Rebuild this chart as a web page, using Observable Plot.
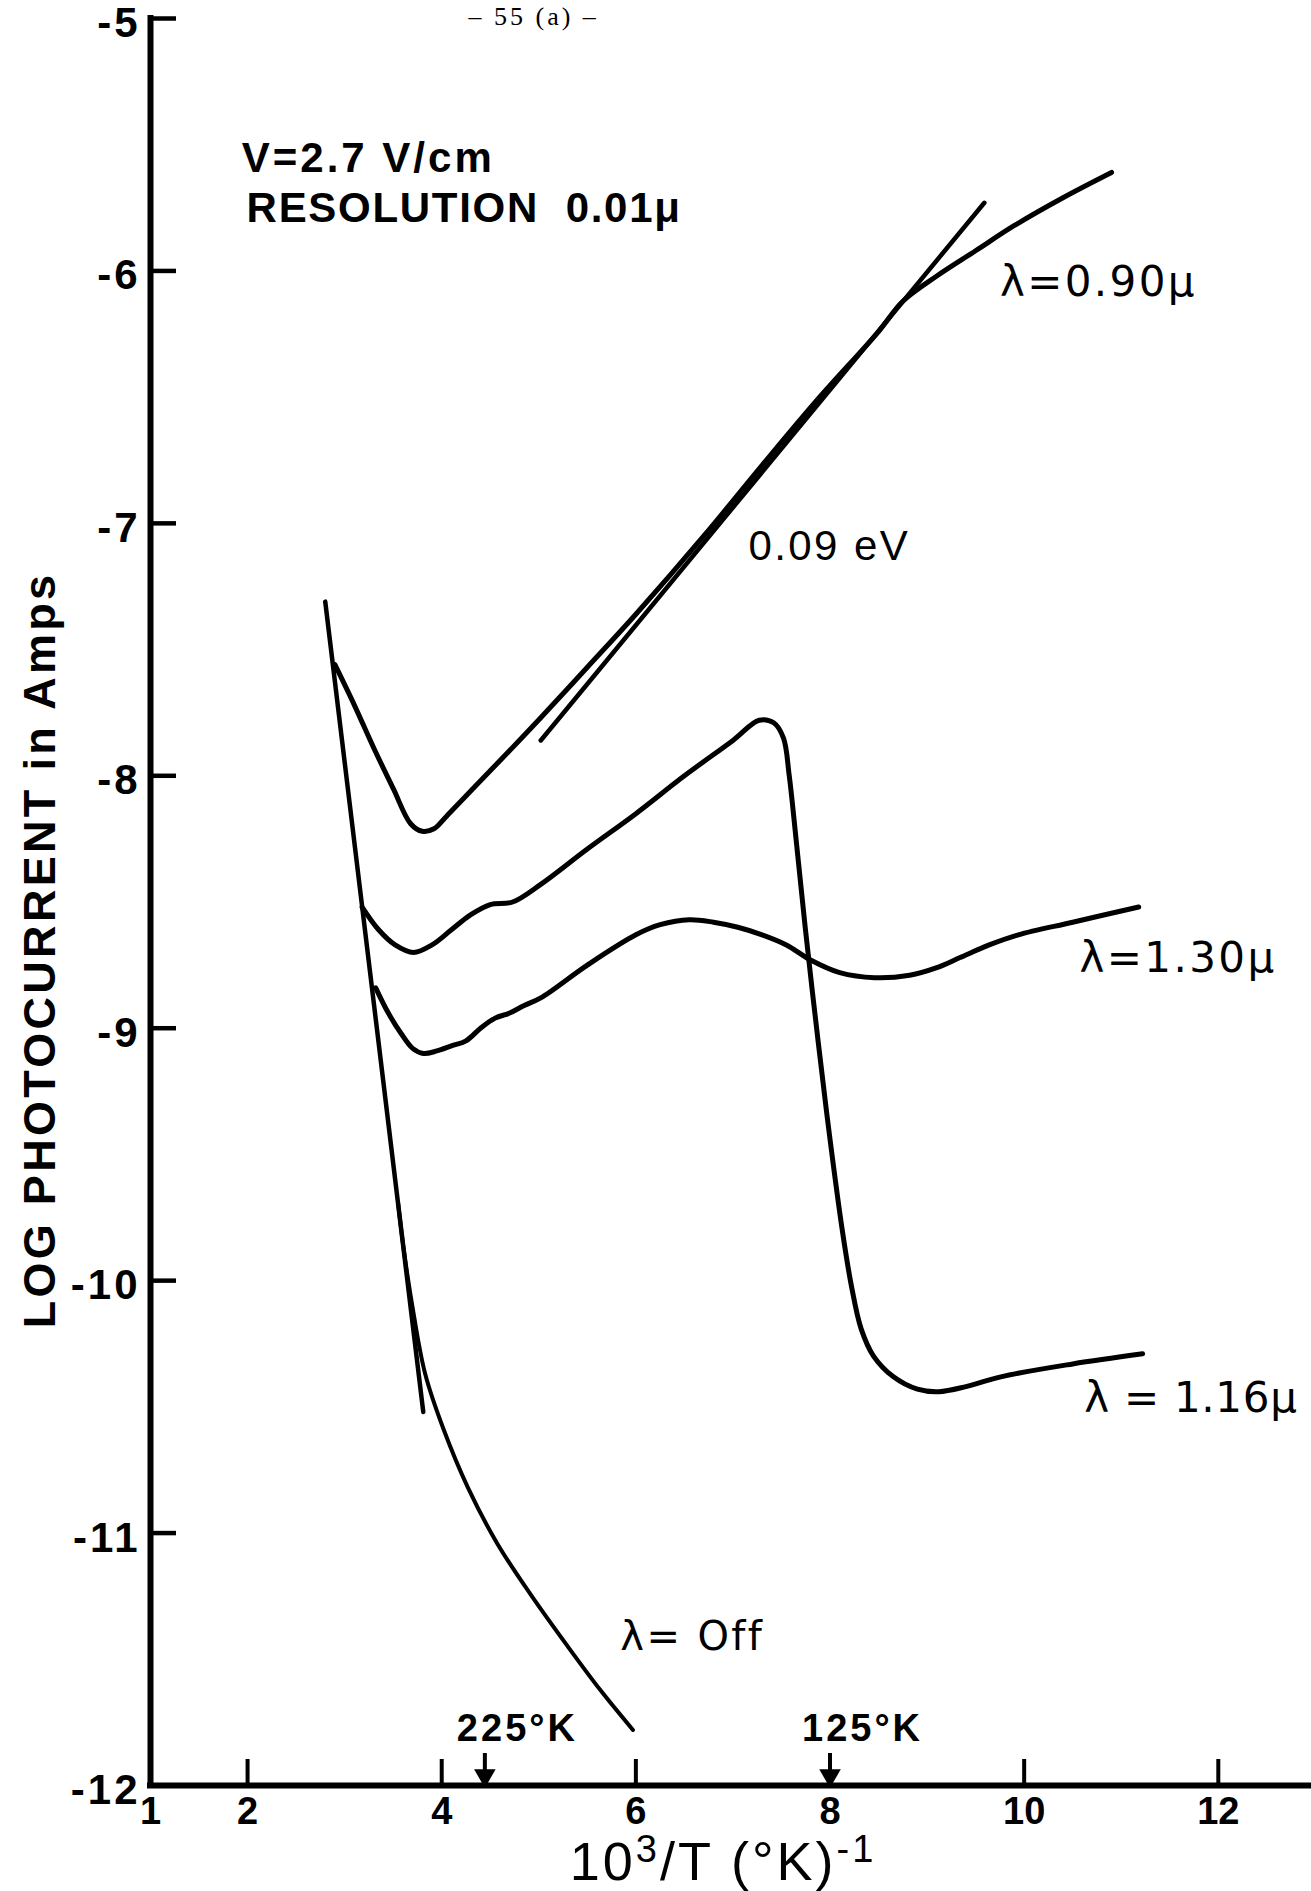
<!DOCTYPE html>
<html>
<head>
<meta charset="utf-8">
<script src="https://cdn.jsdelivr.net/npm/d3@7"></script>
<script src="https://cdn.jsdelivr.net/npm/@observablehq/plot@0.6"></script>
<style>
html, body { margin: 0; padding: 0; background: #fff; }
#chart svg { display: block; }
</style>
</head>
<body>
<div id="chart"></div>
<script>
// ---- axes ----
const xTickValues = [2, 4, 6, 8, 10, 12];
const xLabelValues = [1, 2, 4, 6, 8, 10, 12];
const yTickValues = [-5, -6, -7, -8, -9, -10, -11];
const yLabelValues = [-5, -6, -7, -8, -9, -10, -11, -12];
const tempMarks = [225, 125]; // °K, placed at 10^3/T

// ---- series: [10^3/T, log photocurrent] ----
const offSteep = [[2.80, -7.31], [3.81, -10.52]];
const offTail = [[3.55, -9.69], [3.61, -9.88], [3.71, -10.13], [3.83, -10.37], [4.02, -10.59], [4.27, -10.82],
  [4.57, -11.04], [4.91, -11.24], [5.30, -11.45], [5.63, -11.62], [5.97, -11.78]];
const lambda090 = [[2.90, -7.56], [3.10, -7.72], [3.30, -7.89], [3.50, -8.05], [3.68, -8.19], [3.80, -8.22],
  [3.92, -8.21], [4.05, -8.16], [4.40, -8.02], [4.70, -7.90], [5.02, -7.77], [5.50, -7.57], [6.00, -7.36],
  [6.70, -7.05], [7.30, -6.77], [7.87, -6.51], [8.50, -6.24], [8.75, -6.12], [9.10, -6.02], [9.50, -5.92],
  [9.90, -5.82], [10.40, -5.71], [10.90, -5.61]];
const fit009 = [[5.02, -7.86], [9.59, -5.73]];
const lambda116 = [[3.18, -8.52], [3.35, -8.61], [3.52, -8.67], [3.71, -8.70], [3.90, -8.67], [4.10, -8.61],
  [4.30, -8.55], [4.50, -8.51], [4.73, -8.50], [5.02, -8.43], [5.50, -8.29], [6.00, -8.15], [6.50, -8.00],
  [7.00, -7.86], [7.27, -7.78], [7.42, -7.79], [7.52, -7.85], [7.58, -8.00], [7.65, -8.25], [7.75, -8.62],
  [7.88, -9.06], [8.00, -9.44], [8.13, -9.81], [8.22, -10.02], [8.32, -10.19], [8.45, -10.30], [8.65, -10.38],
  [8.90, -10.43], [9.12, -10.44], [9.40, -10.42], [9.77, -10.38], [10.50, -10.33], [11.22, -10.29]];
const lambda130 = [[3.32, -8.84], [3.45, -8.94], [3.58, -9.02], [3.70, -9.08], [3.81, -9.10], [3.95, -9.09],
  [4.10, -9.07], [4.25, -9.05], [4.40, -9.00], [4.55, -8.96], [4.70, -8.94], [4.85, -8.91], [5.02, -8.88],
  [5.50, -8.75], [6.00, -8.63], [6.25, -8.59], [6.55, -8.57], [6.80, -8.58], [7.05, -8.60], [7.30, -8.63],
  [7.55, -8.67], [7.80, -8.73], [8.10, -8.78], [8.46, -8.80], [8.82, -8.79], [9.10, -8.76], [9.34, -8.72],
  [9.64, -8.67], [9.94, -8.63], [10.50, -8.58], [11.18, -8.52]];

// ---- texts ----
const pageNote = "– 55 (a) –";
const noteVoltage = "V=2.7 V/cm";
const noteResolution = "RESOLUTION  0.01μ";
const noteSlope = "0.09 eV";
const label090 = "λ=0.90μ";
const label130 = "λ=1.30μ";
const label116 = "λ = 1.16μ";
const labelOff = "λ= Off";
const yTitle = "LOG PHOTOCURRENT in Amps";
const xTitleParts = ["10", "3", "/T (°K)", "-1"]; // 10³/T (°K)⁻¹
const xTitle = "10³/T (°K)⁻¹";

const W = 1311, H = 1891;
const mL = 150, mR = 0, mT = 18, mB = 106;
const frameW = W - mL - mR, frameH = H - mT - mB;
const SANS = "'Liberation Sans', Arial, sans-serif";
const NARROW = "'Liberation Sans Narrow', 'Liberation Sans', Arial, sans-serif";
const LAMBDA = "'DejaVu Sans', 'Liberation Sans', sans-serif";

const curveLine = (data, sw, curve = "catmull-rom") =>
  Plot.line(data, {x: d => d[0], y: d => d[1], stroke: "#000", strokeWidth: sw, curve,
    strokeLinecap: "round", strokeLinejoin: "round"});

const label = (t, x, y, size, opts = {}) =>
  Plot.text([t], {x: () => x, y: () => y, text: d => d, textAnchor: "start", lineAnchor: "middle",
    fontSize: size, fill: "#000", ...opts});

const chart = Plot.plot({
  width: W, height: H,
  marginLeft: mL, marginRight: mR, marginTop: mT, marginBottom: mB,
  x: {domain: [1, 12.96], axis: null},
  y: {domain: [-12, -5], axis: null},
  style: {background: "#fff", color: "#000"},
  marks: [
    // axis lines
    Plot.ruleX([1], {stroke: "#000", strokeWidth: 6, strokeLinecap: "square"}),
    Plot.ruleY([-12], {stroke: "#000", strokeWidth: 6, strokeLinecap: "square"}),
    // inward ticks
    Plot.tickY(yTickValues, {y: d => d, insetRight: frameW - 26, stroke: "#000", strokeWidth: 4.5}),
    Plot.tickX(xTickValues, {x: d => d, insetTop: frameH - 26, stroke: "#000", strokeWidth: 4}),
    // tick labels
    Plot.text(yLabelValues, {frameAnchor: "left", y: d => d, text: d => String(d), textAnchor: "end",
      lineAnchor: "middle", dx: -10, dy: 5, fontSize: 42, fontWeight: "bold", fontFamily: SANS, fill: "#000",
      className: "ls-3"}),
    Plot.text(xLabelValues, {x: d => d, frameAnchor: "bottom", text: d => String(d), lineAnchor: "top",
      dy: 12, fontSize: 38, fontWeight: "bold", fontFamily: NARROW, fill: "#000"}),
    // axis titles
    Plot.text([yTitle], {frameAnchor: "left", text: d => d, rotate: -90, textAnchor: "middle",
      lineAnchor: "middle", dx: -110, dy: 48, fontSize: 45, fontWeight: "bold", fontFamily: NARROW,
      fill: "#000", className: "ls-3-3"}),
    Plot.text([xTitle], {frameAnchor: "bottom", text: d => d, textAnchor: "middle", lineAnchor: "middle",
      dx: -8, dy: 77, fontSize: 54, fontFamily: SANS, fill: "#000", className: "x-title ls-3"}),
    Plot.text([pageNote], {frameAnchor: "top-left", text: d => d, textAnchor: "start", lineAnchor: "middle",
      dx: 318, dy: -2, fontSize: 26, fontFamily: "'Liberation Serif', serif", fill: "#000",
      className: "ls-3"}),
    // temperature markers
    Plot.tickX(tempMarks, {x: T => 1000 / T, insetTop: frameH - 32, stroke: "#000", strokeWidth: 4}),
    Plot.dot(tempMarks, {x: T => 1000 / T, frameAnchor: "bottom", dy: -10, symbol: "triangle", rotate: 180,
      r: 8, fill: "#000", stroke: "none"}),
    Plot.text(tempMarks, {x: T => 1000 / T, frameAnchor: "bottom", text: T => `${T}°K`, textAnchor: "start",
      lineAnchor: "middle", dx: -28, dy: -57, fontSize: 38, fontWeight: "bold", fontFamily: NARROW,
      fill: "#000", className: "ls-3"}),
    // data curves
    curveLine(offSteep, 4.5, "linear"),
    curveLine(offTail, 4),
    curveLine(lambda090, 5),
    curveLine(fit009, 4.5, "linear"),
    curveLine(lambda116, 5),
    curveLine(lambda130, 5),
    // annotations
    label(noteVoltage, 1.94, -5.555, 42, {fontWeight: "bold", fontFamily: SANS, className: "ls-3"}),
    label(noteResolution, 1.99, -5.753, 42, {fontWeight: "bold", fontFamily: SANS, className: "ls-1-7"}),
    label(noteSlope, 7.16, -7.092, 42, {fontFamily: SANS, className: "ls-2-4"}),
    label(label090, 9.75, -6.046, 42, {fontFamily: LAMBDA, className: "ls-2-4"}),
    label(label130, 10.57, -8.724, 42, {fontFamily: LAMBDA, className: "ls-2-4"}),
    label(label116, 10.62, -10.467, 42, {fontFamily: LAMBDA, className: "ls-0-7"}),
    label(labelOff, 5.84, -11.414, 40, {fontFamily: LAMBDA, className: "ls-2-4"})
  ]
});

// letter spacing (inherited by the text of each mark group)
const spacing = {"ls-3": "3px", "ls-3-3": "3.3px", "ls-1-7": "1.7px", "ls-2-4": "2.4px", "ls-0-7": "0.7px"};
for (const [cls, v] of Object.entries(spacing)) {
  d3.select(chart).selectAll("." + cls).style("letter-spacing", v);
}

// typeset the x title with raised exponents
d3.select(chart).selectAll(".x-title text").each(function () {
  const t = d3.select(this);
  t.text(null);
  t.append("tspan").text(xTitleParts[0]);
  t.append("tspan").attr("dy", "-18").attr("font-size", "38").text(xTitleParts[1]);
  t.append("tspan").attr("dy", "18").text(xTitleParts[2]);
  t.append("tspan").attr("dy", "-18").attr("font-size", "38").text(xTitleParts[3]);
});

document.getElementById("chart").appendChild(chart);
</script>
</body>
</html>
